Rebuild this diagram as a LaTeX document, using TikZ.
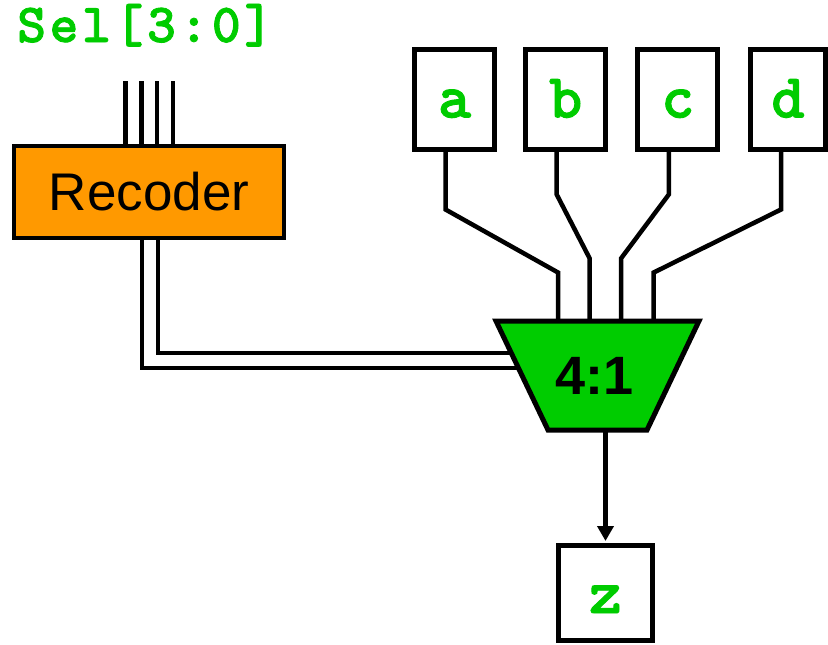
\documentclass[tikz,border=0pt]{standalone}
\usepackage{fontspec}
\setmainfont{Liberation Sans}
\newfontfamily\codefont{lmmonolt10-bold.otf}[FakeBold=1.5]
\newfontfamily\selfont{lmmonolt10-bold.otf}[FakeBold=1.5,LetterSpace=6.5]
\usepackage{tikz}
\usetikzlibrary{arrows.meta}

\definecolor{sigGreen}{HTML}{00CC00}
\definecolor{recOrange}{HTML}{FF9900}

\tikzset{
  wire/.style={line width=4.5pt},
  sigbox/.style={draw, line width=5pt, fill=white, inner sep=0pt,
    minimum width=80pt, minimum height=100pt,
    text height=36pt, text depth=0pt, text=sigGreen,
    font=\codefont\fontsize{63}{63}\selectfont},
  muxshape/.style={draw, line width=5pt, fill=sigGreen, line join=miter},
}

\begin{document}
\begin{tikzpicture}[x=1pt,y=-1pt]
  \useasboundingbox (0,0) rectangle (828,645);

  % select bus and recoder
  \node[anchor=base west, inner sep=0pt, text=sigGreen, font=\selfont\fontsize{55}{55}\selectfont] (sel) at (17,42) {Sel[3:0]};
  \coordinate (selbus) at (149,81);
  \node[draw, line width=4.5pt, fill=recOrange, inner sep=0pt, minimum width=270pt, minimum height=92pt,
    font=\fontsize{53}{53}\selectfont] (rec) at (149,192) {Recoder};
  \foreach \dx in {-23.5,-7.7,8,24}
    \draw[wire] ([xshift=\dx pt]selbus) -- ([xshift=\dx pt]rec.north);

  % data inputs
  \node[sigbox] (a) at (454.5,99.5) {a};
  \node[sigbox] (b) at (565.7,99.5) {b};
  \node[sigbox] (c) at (677.8,99.5) {c};
  \node[sigbox, minimum width=75pt] (d) at (788,99.5) {d};

  % mux inputs on its top edge
  \coordinate (muxc) at (597.5,375.5);
  \coordinate (in1) at ([shift={(-39.5,-54.5)}]muxc);
  \coordinate (in2) at ([shift={(-7.8,-54.5)}]muxc);
  \coordinate (in3) at ([shift={(23.5,-54.5)}]muxc);
  \coordinate (in4) at ([shift={(56.2,-54.5)}]muxc);
  \coordinate (muxout) at ([shift={(0,54.5)}]muxc);

  \draw[wire] ([xshift=-9pt]a.south) -- ++(0,57.5) -- ++(112.5,63) -- (in1);
  \draw[wire] ([xshift=-9pt]b.south) -- ++(0,42.5) -- ++(33,64) -- (in2);
  \draw[wire] ([xshift=-9pt]c.south) -- ++(0,42.5) -- ++(-47.8,64) -- (in3);
  \draw[wire] ([xshift=-7pt]d.south) -- ++(0,57.5) -- ++(-127.3,63) -- (in4);

  % recoder outputs, ends hidden by the mux body
  \draw[wire] ([xshift=-7pt]rec.south) |- ([yshift=7.5pt]muxc);
  \draw[wire] ([xshift=9pt]rec.south) |- ([yshift=22.5pt]muxc);

  % the 4:1 mux
  \draw[muxshape] ([shift={(-101.5,-54.5)}]muxc) -- ++(203,0) -- ++(-52,109) -- ++(-99,0) -- cycle;
  \node[font=\bfseries\fontsize{54}{54}\selectfont] (mux) at ([xshift=-3pt]muxc) {4:1};

  % output
  \node[sigbox, minimum width=94pt, minimum height=95pt, text height=40pt] (z) at (605.5,593) {z};
  \draw[wire, -{Triangle[width=16pt,length=15pt]}, shorten >=2pt] (muxout -| z.north) -- (z.north);
\end{tikzpicture}
\end{document}
